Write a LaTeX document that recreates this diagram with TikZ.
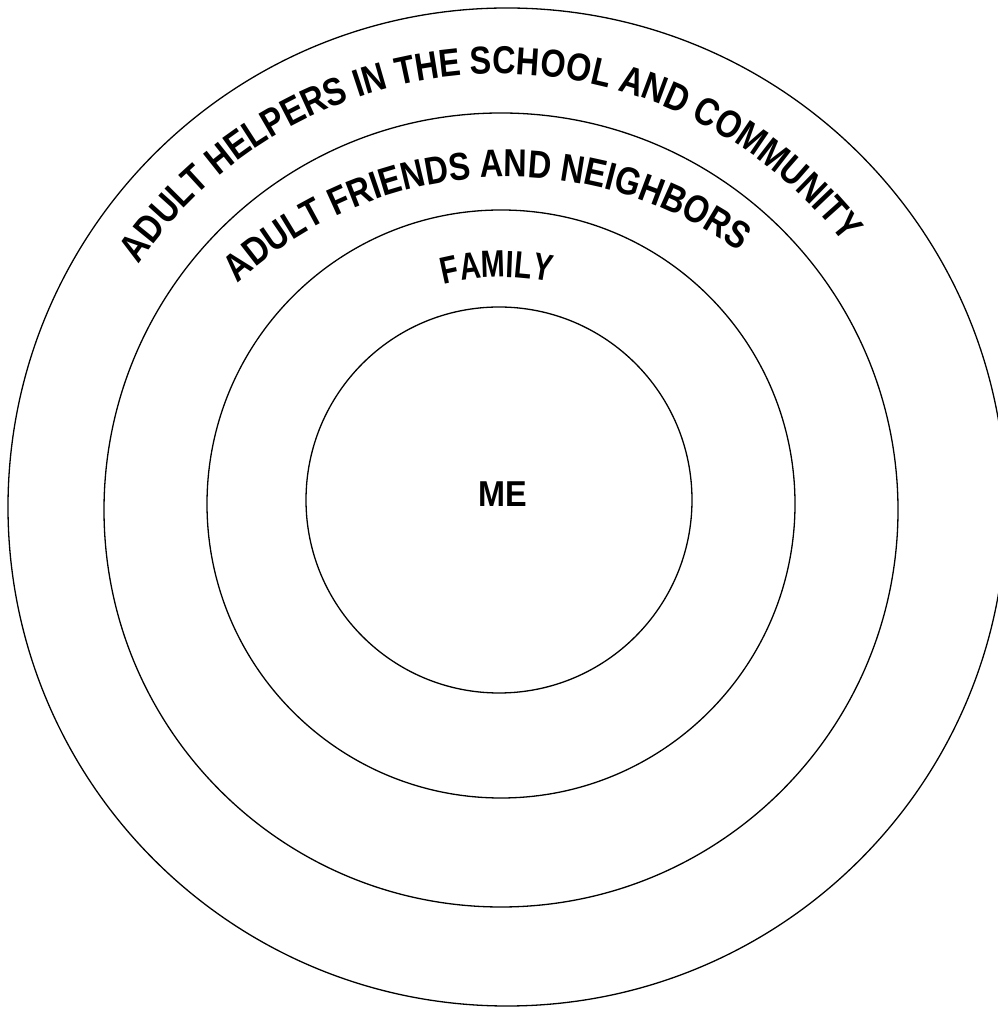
\documentclass[tikz,border=0pt]{standalone}
\usepackage{fontspec}
\newfontfamily\labfont{Liberation Sans}[FakeStretch=0.83]
\newfontfamily\famfont{Liberation Sans}[FakeStretch=0.76]
\newfontfamily\mefont{Liberation Sans}[FakeStretch=0.9]
\usetikzlibrary{decorations.text,calc}
\tikzset{
  ring/.style={circle, draw=black, line width=1.3pt, inner sep=0pt, fill=none},
  lab/.style={font=\mefont\bfseries\fontsize{36}{40}\selectfont, inner sep=0pt},
  arctext/.style={decorate, decoration={text along path, text align=center,
      text format delimiters={|}{|}, text={|\labfont\bfseries\fontsize{39}{42}\selectfont|#1}}},
  famtext/.style={decorate, decoration={text along path, text align=center,
      text format delimiters={|}{|}, text={|\famfont\bfseries\fontsize{38}{42}\selectfont|#1}}}
}
\begin{document}
\begin{tikzpicture}[x=1pt,y=1pt]
\useasboundingbox (0,0) rectangle (997,1009);
% rings (pixel centres converted to y-up)
\node[ring, minimum size=998pt] (outer) at (507,502) {};
\node[ring, minimum size=794pt] (friends) at (501,499) {};
\node[ring, minimum size=588pt] (family) at (501,505) {};
\node[ring, minimum size=386pt] (inner) at (499,509) {};
% labels
\coordinate (c1) at (499,499);
\coordinate (c2) at (508,435);
\coordinate (c3) at (501,504);
\path[arctext={ADULT HELPERS IN THE SCHOOL AND COMMUNITY}]
  ($(c1)+(161.7:436)$) arc[start angle=161.7, end angle=21.7, radius=436];
\path[arctext={ADULT FRIENDS AND NEIGHBORS}]
  ($(c2)+(153.6:397)$) arc[start angle=153.6, end angle=33.6, radius=397];
\path[famtext={FAMILY}]
  ($(c3)+(131:228)$) arc[start angle=131, end angle=51, radius=228];
\node[lab] (me) at (503,515) {ME};
\end{tikzpicture}
\end{document}
